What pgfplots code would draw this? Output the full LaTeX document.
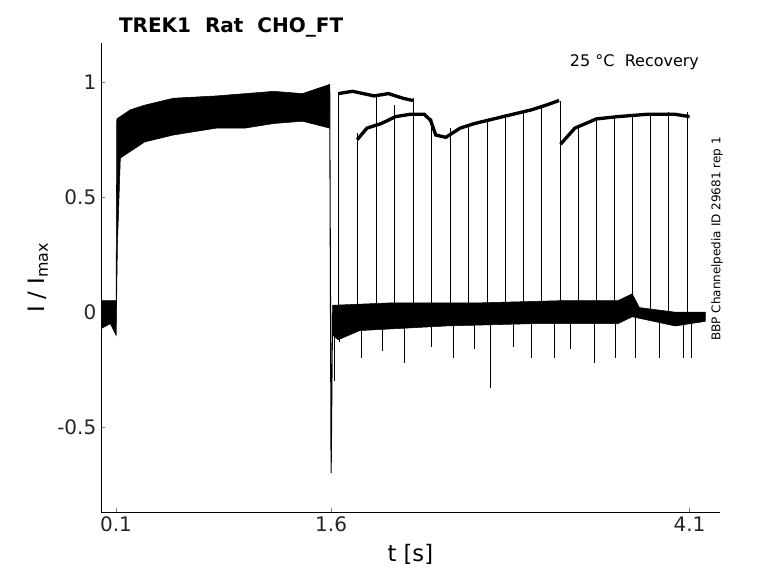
\documentclass[border=0pt]{standalone}
\usepackage{pgfplots}
\pgfplotsset{compat=1.18}
\usepackage{fontspec}
\setmainfont{DejaVu Sans}
\begin{document}
\begin{tikzpicture}
\begin{axis}[at={(0,0)},anchor=south west,scale only axis,width=464pt,height=352pt,
 xmin=-0.005,xmax=4.31,ymin=-0.87,ymax=1.17,axis x line*=bottom,axis y line*=left,
 xtick={0.1,1.6,4.1},xticklabels={0.1,1.6,4.1},ytick={-0.5,0,0.5,1},yticklabels={-0.5,0,0.5,1},
 tick align=inside,major tick length=3pt,
 ticklabel style={font=\fontsize{15}{15}\selectfont,text=black!85},
 xlabel={t [s]},ylabel={I / I$_{\mathrm{max}}$},
 xlabel style={font=\fontsize{17}{17}\selectfont,yshift=-2pt},
 ylabel style={font=\fontsize{17}{17}\selectfont},
 unbounded coords=jump,clip=false]
\addplot[fill=black,draw=black,line width=0.4pt] coordinates {(0,0.05)(0.1,0.05)(0.1,-0.1)(0.06,-0.05)(0,-0.07)} -- cycle;
\addplot[fill=black,draw=black,line width=0.4pt] coordinates {(0.1,0.03)(0.105,0.84)(0.2,0.88)(0.3,0.9)(0.5,0.93)(0.8,0.94)(1.2,0.96)(1.4,0.95)(1.59,0.99)(1.59,0.8)(1.4,0.83)(1.2,0.82)(1.0,0.8)(0.8,0.8)(0.5,0.77)(0.3,0.74)(0.13,0.67)(0.11,0.3)(0.1,-0.1)} -- cycle;
\addplot[black,line width=0.8pt] coordinates {(1.59,0.99)(1.6,-0.7)(1.61,0)};
\addplot[fill=black,draw=black,line width=0.4pt] coordinates {(1.61,0.03)(2.0,0.04)(2.6,0.04)(3.2,0.05)(3.6,0.05)(3.7,0.08)(3.75,0.02)(4.0,0.0)(4.21,0.0)(4.21,-0.04)(4.0,-0.06)(3.7,-0.02)(3.6,-0.05)(3.0,-0.05)(2.4,-0.06)(1.8,-0.08)(1.65,-0.12)(1.61,-0.1)} -- cycle;
\addplot[black,line width=0.7pt] coordinates {(1.62,0)(1.62,-0.3)(nan,nan)(1.66,0)(1.66,-0.13)(nan,nan)(1.81,0)(1.81,-0.2)(nan,nan)(1.96,0)(1.96,-0.17)(nan,nan)(2.11,0)(2.11,-0.22)(nan,nan)(2.30,0)(2.30,-0.15)(nan,nan)(2.45,0)(2.45,-0.2)(nan,nan)(2.60,0)(2.60,-0.16)(nan,nan)(2.71,0)(2.71,-0.33)(nan,nan)(2.87,0)(2.87,-0.15)(nan,nan)(3.00,0)(3.00,-0.2)(nan,nan)(3.16,0)(3.16,-0.2)(nan,nan)(3.27,0)(3.27,-0.16)(nan,nan)(3.44,0)(3.44,-0.22)(nan,nan)(3.58,0)(3.58,-0.2)(nan,nan)(3.72,0)(3.72,-0.2)(nan,nan)(3.89,0)(3.89,-0.2)(nan,nan)(4.06,0)(4.06,-0.2)(nan,nan)(4.11,0)(4.11,-0.2)};
\addplot[black,line width=0.7pt] coordinates {(1.649,0)(1.649,0.95)(nan,nan)(1.782,0)(1.782,0.78)(nan,nan)(1.914,0)(1.914,0.95)(nan,nan)(2.04,0)(2.04,0.9)(nan,nan)(2.172,0)(2.172,0.93)(nan,nan)(2.298,0)(2.298,0.83)(nan,nan)(2.431,0)(2.431,0.8)(nan,nan)(2.556,0)(2.556,0.82)(nan,nan)(2.689,0)(2.689,0.84)(nan,nan)(2.815,0)(2.815,0.86)(nan,nan)(2.94,0)(2.94,0.88)(nan,nan)(3.066,0)(3.066,0.9)(nan,nan)(3.198,0)(3.198,0.92)(nan,nan)(3.324,0)(3.324,0.8)(nan,nan)(3.45,0)(3.45,0.84)(nan,nan)(3.575,0)(3.575,0.85)(nan,nan)(3.701,0)(3.701,0.86)(nan,nan)(3.826,0)(3.826,0.86)(nan,nan)(3.952,0)(3.952,0.87)(nan,nan)(4.085,0)(4.085,0.87)};
\addplot[black,line width=2.5pt] coordinates {(1.649,0.95)(1.75,0.96)(1.9,0.94)(2.0,0.95)(2.1,0.93)(2.17,0.92)};
\addplot[black,line width=2.5pt] coordinates {(1.782,0.75)(1.85,0.8)(1.95,0.82)(2.05,0.85)(2.15,0.86)(2.25,0.86)(2.3,0.83)};
\addplot[black,line width=2.5pt] coordinates {(2.29,0.84)(2.33,0.77)(2.4,0.76)(2.5,0.8)(2.6,0.82)(2.8,0.85)(3.0,0.88)(3.1,0.9)(3.19,0.92)};
\addplot[black,line width=2.5pt] coordinates {(3.2,0.73)(3.3,0.8)(3.45,0.84)(3.6,0.85)(3.8,0.86)(4.0,0.86)(4.1,0.85)};
\end{axis}
\node[anchor=south west,font=\bfseries\fontsize{15}{15}\selectfont] at (10pt,353pt) {TREK1\ \ Rat\ \ CHO\_FT};
\node[anchor=north east,font=\fontsize{12}{12}\selectfont] at (452pt,347pt) {25 °C\ \ Recovery};
\node[rotate=90,font=\fontsize{9}{9}\selectfont] at (462pt,205pt) {BBP Channelpedia ID 29681 rep 1};
\pgfresetboundingbox
\path[use as bounding box] (-75.75pt,-53.25pt) rectangle (507.75pt,384.25pt);
\end{tikzpicture}
\end{document}
